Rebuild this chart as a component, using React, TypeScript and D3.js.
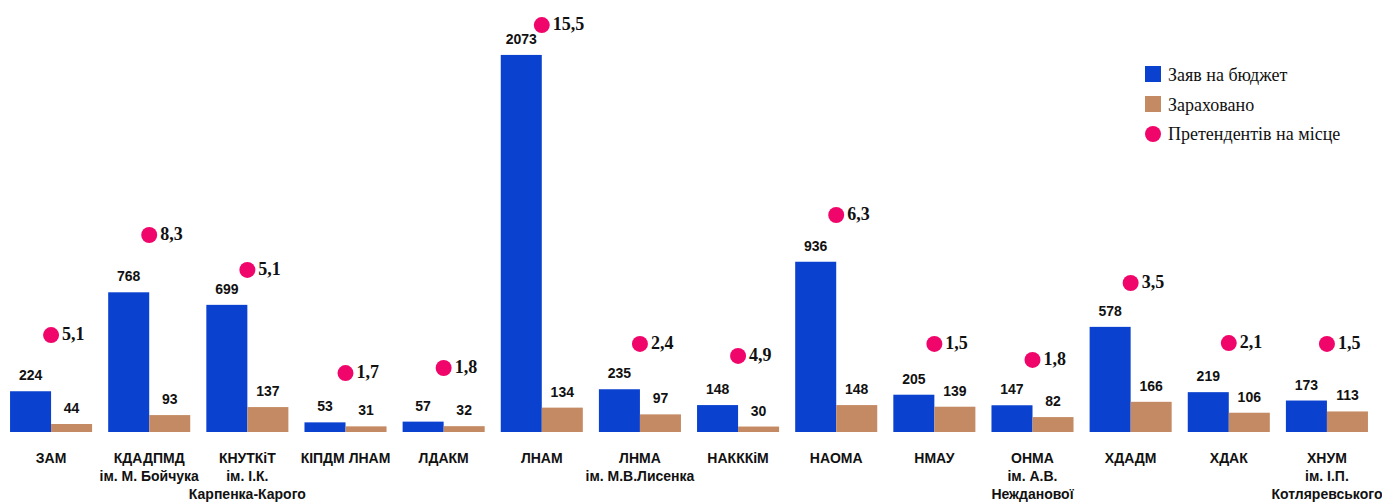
import React from "react";
import * as d3 from "d3";

const categories = [
  ["ЗАМ"],
  ["КДАДПМД", "ім. М. Бойчука"],
  ["КНУТКіТ", "ім. І.К.", "Карпенка-Карого"],
  ["КІПДМ ЛНАМ"],
  ["ЛДАКМ"],
  ["ЛНАМ"],
  ["ЛНМА", "ім. М.В.Лисенка"],
  ["НАКККіМ"],
  ["НАОМА"],
  ["НМАУ"],
  ["ОНМА", "ім. А.В.", "Нежданової"],
  ["ХДАДМ"],
  ["ХДАК"],
  ["ХНУМ", "ім. І.П.", "Котляревського"],
];
const applications = [224, 768, 699, 53, 57, 2073, 235, 148, 936, 205, 147, 578, 219, 173];
const enrolled = [44, 93, 137, 31, 32, 134, 97, 30, 148, 139, 82, 166, 106, 113];
const perPlace = ["5,1", "8,3", "5,1", "1,7", "1,8", "15,5", "2,4", "4,9", "6,3", "1,5", "1,8", "3,5", "2,1", "1,5"];
// height (in application units) at which each "per place" marker sits in the picture
const markerLevel = [533, 1083, 891, 324, 352, 2237, 484, 418, 1193, 484, 396, 819, 489, 484];
const seriesNames = ["Заяв на бюджет", "Зараховано", "Претендентів на місце"];

const W = 1382;
const H = 502;
const BLUE = "#0a41cf";
const BROWN = "#c48a63";
const PINK = "#f0066b";
const LABEL_FONT = "'Liberation Sans Narrow', 'Liberation Sans', Arial, sans-serif";
const SERIF = "'Liberation Serif', 'Times New Roman', serif";

export default function App() {
  const keys = categories.map((c) => c[0]);
  const x = d3.scaleBand<string>().domain(keys).range([2, 1376]).padding(0);
  const y = d3.scaleLinear().domain([0, 2200]).range([432, 432 - 2200 * 0.1819]);
  const barW = x.bandwidth() * 0.418;

  return (
    <svg width={W} height={H} style={{ position: "absolute", left: 0, top: 0, background: "#fff" }}>
      {keys.map((k, i) => {
        const cx = (x(k) as number) + x.bandwidth() / 2;
        const yA = y(applications[i]);
        const yE = y(enrolled[i]);
        const yM = y(markerLevel[i]);
        return (
          <g key={k}>
            <rect x={cx - barW} y={yA} width={barW} height={y(0) - yA} fill={BLUE} />
            <rect x={cx} y={yE} width={barW} height={y(0) - yE} fill={BROWN} />
            <text x={cx - barW / 2} y={yA - 11} textAnchor="middle" fontFamily={LABEL_FONT} fontWeight="bold" fontSize={14} fill="#111">
              {applications[i]}
            </text>
            <text x={cx + barW / 2} y={yE - 11} textAnchor="middle" fontFamily={LABEL_FONT} fontWeight="bold" fontSize={14} fill="#111">
              {enrolled[i]}
            </text>
            <circle cx={cx} cy={yM} r={8} fill={PINK} />
            <text x={cx + 11} y={yM + 5} fontFamily={SERIF} fontWeight="bold" fontSize={18} fill="#111">
              {perPlace[i]}
            </text>
            {categories[i].map((line, j) => (
              <text key={j} x={cx} y={463 + j * 18} textAnchor="middle" fontFamily={LABEL_FONT} fontWeight="bold" fontSize={14} fill="#111">
                {line}
              </text>
            ))}
          </g>
        );
      })}
      <g>
        <rect x={1145} y={66} width={16} height={16} fill={BLUE} />
        <text x={1168} y={81} fontFamily={SERIF} fontSize={18} fill="#111">{seriesNames[0]}</text>
        <rect x={1145} y={96} width={16} height={16} fill={BROWN} />
        <text x={1168} y={111} fontFamily={SERIF} fontSize={18} fill="#111">{seriesNames[1]}</text>
        <circle cx={1153} cy={134} r={8} fill={PINK} />
        <text x={1168} y={140} fontFamily={SERIF} fontSize={18} fill="#111">{seriesNames[2]}</text>
      </g>
    </svg>
  );
}
